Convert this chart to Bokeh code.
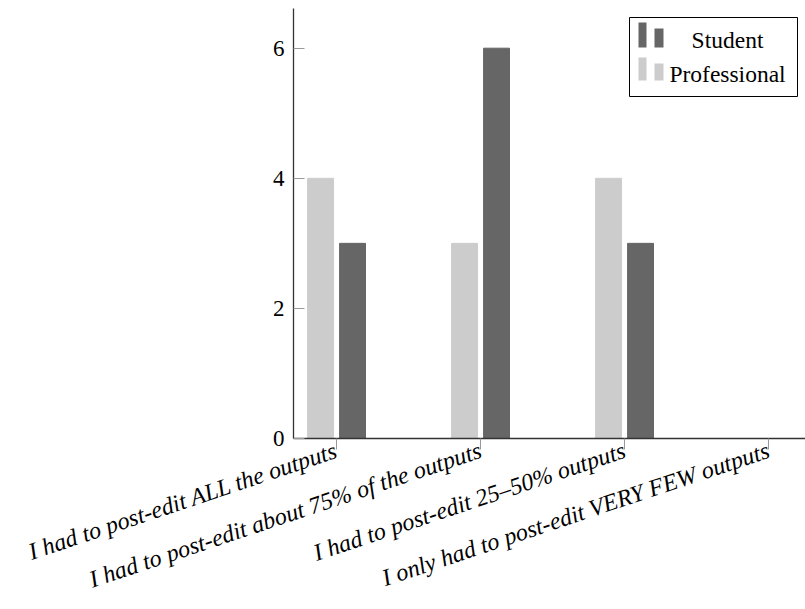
import math
from bokeh.plotting import figure
from bokeh.models import (Range1d, FixedTicker, ColumnDataSource, BoxAnnotation, Label)
from bokeh.embed import file_html
from bokeh.resources import INLINE

categories = [
    "I had to post-edit ALL the outputs",
    "I had to post-edit about 75% of the outputs",
    "I had to post-edit 25\u201350% outputs",
    "I only had to post-edit VERY FEW outputs",
]
professional = [4, 3, 4, 0]
student = [3, 6, 3, 0]
yticks = [0, 2, 4, 6]

FONT = "Liberation Serif"
DARK = "#666666"
LIGHT = "#cccccc"

xs = list(range(1, len(categories) + 1))
src = ColumnDataSource(dict(
    x_prof=[x - 0.111 for x in xs],
    x_stud=[x + 0.111 for x in xs],
    professional=professional,
    student=student,
))

p = figure(width=805, height=609, output_backend="svg", toolbar_location=None,
           x_range=Range1d(0.701, 0.701 + 512 / 144),
           y_range=Range1d(0, 430 / 65.05),
           min_border_left=293, min_border_right=0, min_border_top=8,
           min_border_bottom=171)
p.outline_line_color = None
p.xgrid.visible = False
p.ygrid.visible = False
p.background_fill_color = "white"
p.border_fill_color = "white"

p.vbar(x="x_prof", top="professional", width=0.18, source=src,
       fill_color=LIGHT, line_color=LIGHT, line_width=1)
p.vbar(x="x_stud", top="student", width=0.18, source=src,
       fill_color=DARK, line_color=DARK, line_width=1)

# y axis
ya = p.yaxis[0]
ya.ticker = FixedTicker(ticks=yticks)
ya.axis_line_color = "#333333"
ya.axis_line_width = 1.3
ya.major_tick_in = 11
ya.major_tick_out = 0
ya.major_tick_line_color = "#999999"
ya.minor_tick_line_color = None
ya.major_label_text_font = FONT
ya.major_label_text_font_size = "23px"
ya.major_label_text_color = "black"
ya.major_label_standoff = 9

# x axis
xa = p.xaxis[0]
xa.ticker = FixedTicker(ticks=xs)
xa.major_label_overrides = {x: c for x, c in zip(xs, categories)}
xa.major_label_orientation = math.radians(18.5)
xa.axis_line_color = "#333333"
xa.axis_line_width = 1.3
xa.major_tick_in = 0
xa.major_tick_out = 11
xa.major_tick_line_color = "#999999"
xa.minor_tick_line_color = None
xa.major_label_text_font = FONT
xa.major_label_text_font_style = "italic"
xa.major_label_text_font_size = "24px"
xa.major_label_text_color = "black"
xa.major_label_standoff = 0

# legend (drawn in screen units relative to the frame)
p.add_layout(BoxAnnotation(left=336, right=504, bottom=342, top=421,
                           left_units="screen", right_units="screen",
                           top_units="screen", bottom_units="screen",
                           fill_color="white", fill_alpha=1,
                           line_color="black", line_width=1, line_alpha=1))
for (l, r, b, t, c) in [
    (345, 353, 391, 416, DARK), (361, 370, 391, 410, DARK),
    (345, 353, 358, 381, LIGHT), (361, 370, 358, 375, LIGHT),
]:
    p.add_layout(BoxAnnotation(left=l, right=r, bottom=b, top=t,
                               left_units="screen", right_units="screen",
                               top_units="screen", bottom_units="screen",
                               fill_color=c, fill_alpha=1, line_color=None))
for txt, y in [("Student", 399), ("Professional", 365)]:
    p.add_layout(Label(x=434, y=y, x_units="screen", y_units="screen", text=txt,
                       text_align="center", text_baseline="middle",
                       text_font=FONT, text_font_size="23.5px", text_color="black"))

open("out.html", "w").write(file_html(p, INLINE))
